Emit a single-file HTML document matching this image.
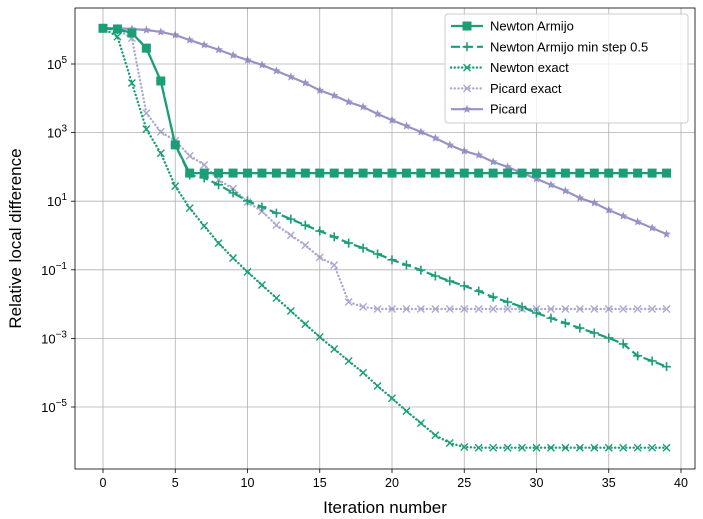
<!DOCTYPE html>
<html><head><meta charset="utf-8">
<style>
html,body{margin:0;padding:0;background:#fff;}
svg{display:block;font-family:"Liberation Sans","DejaVu Sans",sans-serif;}
</style></head>
<body>
<svg id="chart" width="703" height="519" xmlns="http://www.w3.org/2000/svg"></svg>
<script>
const iterations = Array.from({length:40},(_,i)=>i);
const newtonArmijo = [1.1e6,1.05e6,8e5,2.9e5,3.2e4,4.4e2].concat(Array(34).fill(66));
const newtonArmijoMin = [1.1e6,1e6,8e5,2.9e5,3.2e4,4.4e2,58,48,30,17.5,10.2,6.8,4.5,3.0,2.0,1.35,0.91,0.60,0.43,0.29,0.195,0.139,0.098,0.066,0.047,0.034,0.024,0.016,0.0115,0.0083,0.0055,0.0039,0.0028,0.0020,0.00144,0.00103,6.9e-4,3.1e-4,2.2e-4,1.5e-4];
const newtonExact = [1.1e6,6.3e5,2.8e4,1.26e3,2.5e2,27.5,6.3,1.9,0.6,0.22,0.087,0.036,0.015,6.3e-3,2.6e-3,1.1e-3,4.9e-4,2.2e-4,1.0e-4,4.1e-5,1.8e-5,7.6e-6,3.4e-6,1.5e-6,8.9e-7,6.8e-7].concat(Array(14).fill(6.5e-7));
const picardExact = [1.1e6,9.8e5,5.7e5,3.7e3,1.05e3,5.8e2,2.1e2,1.15e2,42,23,9.5,5.1,2.0,1.02,0.52,0.23,0.138,0.0115,0.0083].concat(Array(21).fill(0.0072));
const picard = [1.1e6,1.1e6,1.05e6,9.8e5,8.6e5,7.0e5,5.0e5,3.6e5,2.6e5,1.8e5,1.3e5,9.4e4,6.3e4,4.2e4,2.8e4,1.7e4,1.2e4,7.8e3,5.6e3,3.5e3,2.3e3,1.56e3,1.04e3,6.9e2,4.3e2,2.9e2,2.2e2,1.4e2,1.0e2,66,45,30,20,12.4,8.9,5.5,3.7,2.5,1.65,1.1];
const xTicks = [0,5,10,15,20,25,30,35,40];
const yTickExps = [-5,-3,-1,1,3,5];

const NS="http://www.w3.org/2000/svg";
const svg=document.getElementById('chart');
const L=75,R=695,T=8,B=469;
const xS=v=>103+v*(681-103)/40;
const yS=v=>64-(Math.log10(v)-5)*34.3;
function mk(tag,attrs,parent){const e=document.createElementNS(NS,tag);for(const k in attrs)e.setAttribute(k,attrs[k]);(parent||svg).appendChild(e);return e;}

const grid=mk('g',{});


xTicks.forEach(t=>{const x=xS(t);mk('line',{x1:x,x2:x,y1:T,y2:B,stroke:'#b0b0b0','stroke-width':0.8},grid);
 mk('line',{x1:x,x2:x,y1:B,y2:B+4,stroke:'#000','stroke-width':0.8});
 const tx=mk('text',{x:x,y:B+18,'text-anchor':'middle','font-size':12.5,fill:'#000'});tx.textContent=t;
 
 });
yTickExps.forEach(e=>{const y=yS(Math.pow(10,e));mk('line',{x1:L,x2:R,y1:y,y2:y,stroke:'#b0b0b0','stroke-width':0.8},grid);
 mk('line',{x1:L-4,x2:L,y1:y,y2:y,stroke:'#000','stroke-width':0.8});
 const tx=mk('text',{x:L-8,y:y+5,'text-anchor':'end','font-size':13,fill:'#000'});
 
 
 const a=document.createElementNS(NS,'tspan');a.textContent='10';tx.appendChild(a);
 const b=document.createElementNS(NS,'tspan');b.setAttribute('dy','-6');b.setAttribute('font-size','10');b.textContent=(e<0?'\u2212':'')+Math.abs(e);tx.appendChild(b);});

const clip=mk('clipPath',{id:'pc'});mk('rect',{x:L,y:T,width:R-L,height:B-T},clip);

function marker(g,type,x,y,color){
 if(type==='square')mk('rect',{x:x-4.5,y:y-4.5,width:9,height:9,fill:color},g);
 else if(type==='plus'){mk('path',{d:`M${x-4.5},${y}H${x+4.5}M${x},${y-4.5}V${y+4.5}`,stroke:color,'stroke-width':1.6,fill:'none'},g);}
 else if(type==='x'){mk('path',{d:`M${x-3.5},${y-3.5}L${x+3.5},${y+3.5}M${x-3.5},${y+3.5}L${x+3.5},${y-3.5}`,stroke:color,'stroke-width':1.4,fill:'none'},g);}
 else if(type==='star'){let p='';for(let i=0;i<10;i++){const r=i%2?2:4.5,a=-Math.PI/2+i*Math.PI/5;p+=(i?'L':'M')+(x+r*Math.cos(a))+','+(y+r*Math.sin(a));}mk('path',{d:p+'Z',fill:color},g);}
}
const series=[
 {name:'picard',data:picard,color:'#7570b3',op:0.75,dash:'',w:2.2,m:'star'},
 {name:'picard-exact',data:picardExact,color:'#7570b3',op:0.6,dash:'0.1,3.6',w:2.4,m:'x'},
 {name:'newton-exact',data:newtonExact,color:'#1b9e77',op:1,dash:'0.1,3.6',w:2.4,m:'x'},
 {name:'newton-armijo-min-step',data:newtonArmijoMin,color:'#1b9e77',op:1,dash:'9,4',w:2.2,m:'plus'},
 {name:'newton-armijo',data:newtonArmijo,color:'#1b9e77',op:1,dash:'',w:2.2,m:'square'}
];
series.forEach(s=>{
 const g=mk('g',{'clip-path':'url(#pc)',opacity:s.op});
 
 
 const d=s.data.map((v,i)=>(i?'L':'M')+xS(iterations[i])+','+yS(v)).join('');
 mk('path',{d:d,fill:'none',stroke:s.color,'stroke-width':s.w,'stroke-dasharray':s.dash,'stroke-linecap':s.dash==='0.1,3.6'?'round':'butt'},g);
 s.data.forEach((v,i)=>marker(g,s.m,xS(iterations[i]),yS(v),s.color));
});
mk('rect',{x:L,y:T,width:R-L,height:B-T,fill:'none',stroke:'#000','stroke-width':0.8});

const xt=mk('text',{x:(L+R)/2,y:513,'text-anchor':'middle','font-size':17,fill:'#000'});xt.textContent='Iteration number';


const yt=mk('text',{x:0,y:0,'text-anchor':'middle','font-size':17,fill:'#000',transform:`translate(21,${(T+B)/2}) rotate(-90)`});yt.textContent='Relative local difference';



const lg=mk('g',{});


mk('rect',{x:445,y:14,width:243,height:109,rx:3,fill:'#fff','fill-opacity':0.8,stroke:'#ccc','stroke-width':1},lg);
const legendItems=[['Newton Armijo',4],['Newton Armijo min step 0.5',3],['Newton exact',2],['Picard exact',1],['Picard',0]];
legendItems.forEach((it,k)=>{const s=series[it[1]];const y=26+k*20.8;
 const g=mk('g',{opacity:s.op},lg);
 
 
 mk('line',{x1:451,x2:483,y1:y,y2:y,stroke:s.color,'stroke-width':s.w,'stroke-dasharray':s.dash,'stroke-linecap':s.dash==='0.1,3.6'?'round':'butt'},g);
 marker(g,s.m,467,y,s.color);
 const t=mk('text',{x:490,y:y+4.5,'font-size':13,fill:'#000'},lg);t.textContent=it[0];});
</script>
</body></html>
